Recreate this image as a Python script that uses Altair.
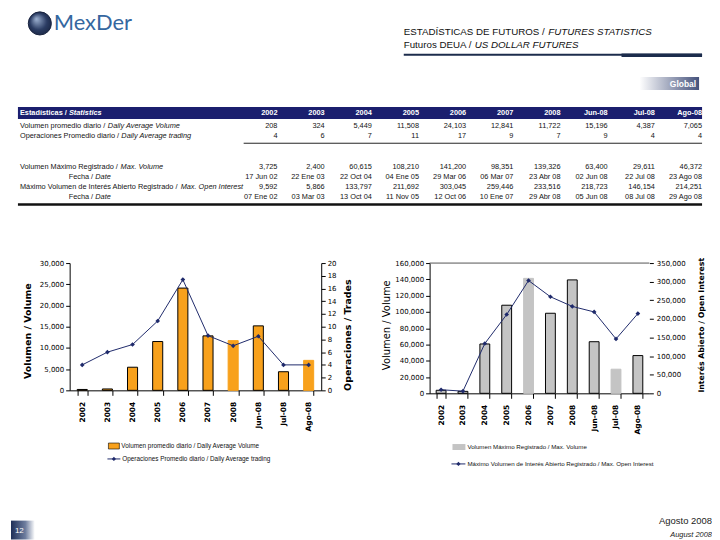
import altair as alt
import pandas as pd

# ---------------- data ----------------
periods = ["2002", "2003", "2004", "2005", "2006", "2007", "2008", "Jun-08", "Jul-08", "Ago-08"]
avg_volume = [208, 324, 5449, 11508, 24103, 12841, 11722, 15196, 4387, 7065]
avg_trades_table = [4, 6, 7, 11, 17, 9, 7, 9, 4, 4]
avg_trades_line = [4.0, 6.0, 7.2, 10.9, 17.4, 8.6, 7.0, 8.5, 4.0, 4.0]
max_volume = [3725, 2400, 60615, 108210, 141200, 98351, 139326, 63400, 29611, 46372]
max_volume_dates = ["17 Jun 02", "22 Ene 03", "22 Oct 04", "04 Ene 05", "29 Mar 06",
                    "06 Mar 07", "23 Abr 08", "02 Jun 08", "22 Jul 08", "23 Ago 08"]
max_oi = [9592, 5866, 133797, 211692, 303045, 259446, 233516, 218723, 146154, 214251]
max_oi_dates = ["07 Ene 02", "03 Mar 03", "13 Oct 04", "11 Nov 05", "12 Oct 06",
                "10 Ene 07", "29 Abr 08", "05 Jun 08", "08 Jul 08", "29 Ago 08"]
vol_axis_top = [160000]

left_vol_ticks = [0, 5000, 10000, 15000, 20000, 25000, 30000]
left_trade_ticks = [0, 2, 4, 6, 8, 10, 12, 14, 16, 18, 20]
right_vol_ticks = [0, 20000, 40000, 60000, 80000, 100000, 120000, 140000, 160000]
right_oi_ticks = [0, 50000, 100000, 150000, 200000, 250000, 300000, 350000]

row_keys = ["r1", "r2", "b1", "b2", "r4", "r5", "r6", "r7"]
row_labels = [
    ("r1", "Volumen promedio diario / ", "Daily Average Volume"),
    ("r2", "Operaciones Promedio diario / ", "Daily Average trading"),
    ("r4", "Volumen Máximo Registrado / ", "Max. Volume"),
    ("r5", "Fecha / ", "Date"),
    ("r6", "Máximo Volumen de Interés Abierto Registrado / ", "Max. Open Interest"),
    ("r7", "Fecha / ", "Date"),
]

LEG_L1 = "Volumen promedio diario / Daily Average Volume"
LEG_L2 = "Operaciones Promedio diario / Daily Average trading"
LEG_R1 = "Volumen Máximo Registrado / Max. Volume"
LEG_R2 = "Máximo Volumen de Interés Abierto Registrado / Max. Open Interest"

# ---------------- style ----------------
NAVY = "#1b1f6e"
LINE_NAVY = "#1f2a6b"
ORANGE = "#f8a11c"
GRAY = "#c4c4c4"
SANS = "Liberation Sans"
LBL = "DejaVu Sans"
TFS = 7.4  # table font size

# Arial / Liberation metrics (per 1000 em) for placing italic continuations
_W = {}
for ch in "0123456789":
    _W[ch] = 556
for ch, w in zip("ABCDEFGHIJKLMNOPQRSTUVWXYZ",
                 [667, 667, 722, 722, 667, 611, 778, 722, 278, 500, 667, 556, 833, 722,
                  778, 667, 778, 722, 667, 611, 722, 667, 944, 667, 667, 611]):
    _W[ch] = w
for ch, w in zip("abcdefghijklmnopqrstuvwxyz",
                 [556, 556, 500, 556, 556, 278, 556, 556, 222, 222, 500, 222, 833, 556,
                  556, 556, 556, 333, 500, 278, 556, 500, 722, 500, 500, 500]):
    _W[ch] = w
_W.update({" ": 278, ",": 278, ".": 278, "/": 278, "-": 333,
           "á": 556, "é": 556, "í": 278, "ó": 556, "Í": 278})


def text_w(s, size, bold=False):
    w = sum(_W.get(c, 556) for c in s) / 1000.0 * size
    if bold:
        w *= 1.07
    return w


# canvas coordinates = page coordinates - 8 (page margin)
def px(x):
    return x - 8


def py(y):
    return y - 8


one = pd.DataFrame({"a": [0]})


def deco_text(x, y, text, **kw):
    return alt.Chart(one).mark_text(text=text, **kw).encode(x=alt.value(px(x)), y=alt.value(py(y)))


def deco_rect(x1, x2, y1, y2, **kw):
    return alt.Chart(one).mark_rect(**kw).encode(
        x=alt.value(px(x1)), x2=alt.value(px(x2)), y=alt.value(py(y1)), y2=alt.value(py(y2)))


def deco_rule(x1, x2, y, **kw):
    return alt.Chart(one).mark_rule(**kw).encode(
        x=alt.value(px(x1)), x2=alt.value(px(x2)), y=alt.value(py(y)))


def deco_point(x, y, **kw):
    return alt.Chart(one).mark_point(**kw).encode(x=alt.value(px(x)), y=alt.value(py(y)))


# ---------------- top canvas: header + table + legends + footer ----------------
TOP_W, TOP_H = 704, 244
layers = []

# logo
layers.append(deco_point(37, 21, shape="circle", size=540, filled=True, opacity=1,
                         fill={"gradient": "radial", "x1": 0.35, "y1": 0.3, "r1": 0, "x2": 0.5, "y2": 0.5,
                               "r2": 0.6,
                               "stops": [{"offset": 0, "color": "#9fb3d3"}, {"offset": 0.6, "color": "#2b3c63"},
                                         {"offset": 1, "color": "#18233f"}]},
                         stroke="#1a2440", strokeWidth=1))
layers.append(deco_text(51, 21, "MexDer", font="Lato", fontSize=22, color="#3567a0",
                        align="left", baseline="middle"))

# header titles
h1n = "ESTADÍSTICAS DE FUTUROS / "
h2n = "Futuros DEUA / "
layers.append(deco_text(403, 30, h1n, font=SANS, fontSize=9.8, color="#111", align="left", baseline="middle"))
layers.append(deco_text(403 + text_w(h1n, 9.8), 30, "FUTURES STATISTICS", font=SANS, fontSize=9.8,
                        fontStyle="italic", color="#111", align="left", baseline="middle"))
layers.append(deco_text(403, 43, h2n, font=SANS, fontSize=9.8, color="#111", align="left", baseline="middle"))
layers.append(deco_text(403 + text_w(h2n, 9.8), 43, "US DOLLAR FUTURES", font=SANS, fontSize=9.8,
                        fontStyle="italic", color="#111", align="left", baseline="middle"))
layers.append(deco_rule(403, 703, 52.5, color="#1c2c4c", strokeWidth=2))
layers.append(deco_rule(622, 703, 53, color="#1c2c4c", strokeWidth=3.5))

# Global tab
layers.append(deco_rect(640, 700, 75, 88, fill={
    "gradient": "linear", "x1": 0, "y1": 0, "x2": 1, "y2": 0,
    "stops": [{"offset": 0, "color": "#ffffff"}, {"offset": 1, "color": "#45527c"}]}))
layers.append(deco_text(697, 81.5, "Global", font=SANS, fontSize=8.5, fontWeight="bold",
                        color="white", align="right", baseline="middle"))

# table header bar
layers.append(deco_rect(15, 703, 105, 117, color=NAVY))
hdn = "Estadísticas / "
layers.append(deco_text(17, 111, hdn, font=SANS, fontSize=TFS, fontWeight="bold", color="white",
                        align="left", baseline="middle"))
layers.append(deco_text(17 + text_w(hdn, TFS, bold=True), 111, "Statistics", font=SANS,
                        fontSize=TFS, fontWeight="bold", fontStyle="italic", color="white",
                        align="left", baseline="middle"))

xcol = alt.X("period:N", scale=alt.Scale(domain=periods, range=[px(276), px(703)], padding=0), axis=None)
yrow = alt.Y("row:N", scale=alt.Scale(domain=row_keys, range=[py(124), py(196)], padding=0), axis=None)

layers.append(alt.Chart(pd.DataFrame({"period": periods})).mark_text(
    font=SANS, fontSize=TFS, fontWeight="bold", color="white", align="right", baseline="middle"
).encode(x=xcol, y=alt.value(py(111)), text="period:N"))

cells = []
for i, p in enumerate(periods):
    cells += [
        {"period": p, "row": "r1", "t": f"{avg_volume[i]:,}"},
        {"period": p, "row": "r2", "t": str(avg_trades_table[i])},
        {"period": p, "row": "r4", "t": f"{max_volume[i]:,}"},
        {"period": p, "row": "r5", "t": max_volume_dates[i]},
        {"period": p, "row": "r6", "t": f"{max_oi[i]:,}"},
        {"period": p, "row": "r7", "t": max_oi_dates[i]},
    ]
layers.append(alt.Chart(pd.DataFrame(cells)).mark_text(
    font=SANS, fontSize=TFS, color="#141414", align="right", baseline="middle"
).encode(x=xcol, y=yrow, text="t:N"))

label_start = {"r1": 17, "r2": 17, "r4": 17, "r5": 66, "r6": 17, "r7": 66}
for key, normal, ital in row_labels:
    x0 = label_start[key]
    d = pd.DataFrame({"row": [key]})
    layers.append(alt.Chart(d).mark_text(text=normal, font=SANS, fontSize=TFS, color="#141414",
                                         align="left", baseline="middle"
                                         ).encode(x=alt.value(px(x0)), y=yrow))
    layers.append(alt.Chart(d).mark_text(text=ital, font=SANS, fontSize=TFS, fontStyle="italic",
                                         color="#141414", align="left", baseline="middle"
                                         ).encode(x=alt.value(px(x0 + text_w(normal, TFS))), y=yrow))

layers.append(deco_rule(242, 703, 141.5, color="#222", strokeWidth=1))
layers.append(deco_rule(15, 703, 203, color="#111", strokeWidth=2.5))

# legends of the two charts
LFS = 6.4
layers.append(deco_rect(106, 117, 443, 449, color=ORANGE, stroke="black", strokeWidth=0.6))
layers.append(deco_text(119, 446, LEG_L1, font=SANS, fontSize=LFS, color="#111", align="left", baseline="middle"))
layers.append(deco_rule(105, 118, 459, color=LINE_NAVY, strokeWidth=1))
layers.append(deco_point(111.5, 459, shape="diamond", size=18, filled=True, color=LINE_NAVY, opacity=1))
layers.append(deco_text(120, 459, LEG_L2, font=SANS, fontSize=LFS, color="#111", align="left", baseline="middle"))

layers.append(deco_rect(452, 465, 444, 450, color=GRAY))
layers.append(deco_text(467, 447, LEG_R1, font=SANS, fontSize=6.2, color="#111", align="left", baseline="middle"))
layers.append(deco_rule(451, 465, 464, color=LINE_NAVY, strokeWidth=1))
layers.append(deco_point(458, 464, shape="diamond", size=18, filled=True, color=LINE_NAVY, opacity=1))
layers.append(deco_text(467, 464, LEG_R2, font=SANS, fontSize=6.2, color="#111", align="left", baseline="middle"))

# footer
layers.append(deco_rect(8, 32, 521, 540, fill={
    "gradient": "linear", "x1": 0, "y1": 0, "x2": 1, "y2": 0,
    "stops": [{"offset": 0, "color": "#1e2f58"}, {"offset": 0.6, "color": "#6d7d9e"},
              {"offset": 1, "color": "#ffffff"}]}))
layers.append(deco_text(12, 531, "12", font=SANS, fontSize=8, color="white", align="left", baseline="middle"))
layers.append(deco_text(713, 521, "Agosto 2008", font=SANS, fontSize=9.5, color="#222",
                        align="right", baseline="middle"))
layers.append(deco_text(713, 535, "August 2008", font=SANS, fontSize=7.5, fontStyle="italic",
                        color="#222", align="right", baseline="middle"))

top = alt.layer(*layers).properties(width=TOP_W, height=TOP_H)


# ---------------- charts ----------------
def axis(**kw):
    d = dict(domainColor="black", tickColor="black", labelColor="black", titleColor="black",
             labelFont=LBL, titleFont=LBL, grid=False, labelOverlap=False)
    d.update(kw)
    return alt.Axis(**d)


def xaxis():
    return axis(title=None, labelAngle=270, labelFontSize=7.5, labelFontWeight="bold",
                tickBand="extent", tickSize=5, labelPadding=6)


# left chart
LW, LH = 253, 128
ldf = pd.DataFrame({"period": periods, "volume": avg_volume, "trades": avg_trades_line})
xl = alt.X("period:N", sort=periods, scale=alt.Scale(domain=periods, paddingInner=0.6, paddingOuter=0.3),
           axis=xaxis())
bars_l = alt.Chart(ldf).mark_bar(color=ORANGE, strokeWidth=1).encode(
    x=xl,
    y=alt.Y("volume:Q", scale=alt.Scale(domain=[0, 30000], nice=False),
            axis=axis(values=left_vol_ticks, format=",.0f", title="Volumen / Volume", tickSize=4,
                      labelFontSize=7, labelPadding=2, titleFontSize=9.5, titleFontWeight="bold",
                      titleAngle=270, titleX=-42, titleY=68, titleAlign="center", titleBaseline="middle")),
    stroke=alt.condition(alt.FieldOneOfPredicate(field="period", oneOf=["2008", "Ago-08"]),
                         alt.value(ORANGE), alt.value("black")),
)
ytr = alt.Y("trades:Q", scale=alt.Scale(domain=[0, 20], nice=False),
            axis=axis(orient="right", values=left_trade_ticks, format=".0f", title="Operaciones / Trades",
                      tickSize=4, labelFontSize=7, labelPadding=2, titleFontSize=9.5, titleFontWeight="bold",
                      titleAngle=270, titleX=26, titleY=72, titleAlign="center", titleBaseline="middle"))
line_l = alt.Chart(ldf).mark_line(strokeWidth=1, color=LINE_NAVY).encode(x=xl, y=ytr)
pts_l = alt.Chart(ldf).mark_point(shape="diamond", filled=True, size=22, color=LINE_NAVY, opacity=1).encode(
    x=xl, y=ytr)
left = alt.layer(bars_l, alt.layer(line_l, pts_l)).resolve_scale(y="independent").properties(width=LW, height=LH)

# right chart
RW, RH = 221, 131
rdf = pd.DataFrame({"period": periods, "maxvol": max_volume, "oi": max_oi})


def yv():
    return alt.Y("maxvol:Q", scale=alt.Scale(domain=[0, 160000], nice=False),
                 axis=axis(values=right_vol_ticks, format=",.0f", title="Volumen / Volume", tickSize=4,
                           labelFontSize=7, labelPadding=2, titleFontSize=10, titleFontWeight="normal",
                           titleAngle=270, titleX=-43, titleY=62, titleAlign="center",
                           titleBaseline="middle"))


xr = alt.X("period:N", sort=periods, scale=alt.Scale(domain=periods, paddingInner=0.55, paddingOuter=0.3),
           axis=xaxis())
bars_r = alt.Chart(rdf).mark_bar(color=GRAY, strokeWidth=1).encode(
    x=xr, y=yv(),
    stroke=alt.condition(alt.FieldOneOfPredicate(field="period", oneOf=["2006", "Jul-08"]),
                         alt.value(GRAY), alt.value("black")),
)
top_rule = alt.Chart(pd.DataFrame({"maxvol": vol_axis_top})).mark_rule(color="#555", strokeWidth=1).encode(
    y=yv())
yoi = alt.Y("oi:Q", scale=alt.Scale(domain=[0, 350000], nice=False),
            axis=axis(orient="right", values=right_oi_ticks, format=",.0f", domain=False,
                      title="Interés Abierto / Open Interest", tickSize=4, labelFontSize=7, labelPadding=3,
                      titleFontSize=7.8, titleFontWeight="bold", titleAngle=270, titleX=52, titleY=62,
                      titleAlign="center", titleBaseline="middle"))
line_r = alt.Chart(rdf).mark_line(strokeWidth=1, color=LINE_NAVY).encode(x=xr, y=yoi)
pts_r = alt.Chart(rdf).mark_point(shape="diamond", filled=True, size=22, color=LINE_NAVY, opacity=1).encode(
    x=xr, y=yoi)
right = alt.layer(alt.layer(bars_r, top_rule), alt.layer(line_r, pts_r)).resolve_scale(
    y="independent").properties(width=RW, height=RH)

spacer = alt.Chart(one).mark_point(opacity=0).encode(x=alt.value(0), y=alt.value(0)).properties(width=1, height=1)

pair = alt.hconcat(left, right, spacing=421 - (59 + LW), bounds="flush")
bottom = alt.hconcat(spacer, pair, spacing=58, bounds="flush")

chart = alt.vconcat(top, bottom, spacing=10, bounds="flush").properties(
    padding={"left": 0, "top": 0, "right": 0, "bottom": 0}
).configure_view(stroke=None)

chart.save("out.html", embed_options={"renderer": "svg", "actions": False})
